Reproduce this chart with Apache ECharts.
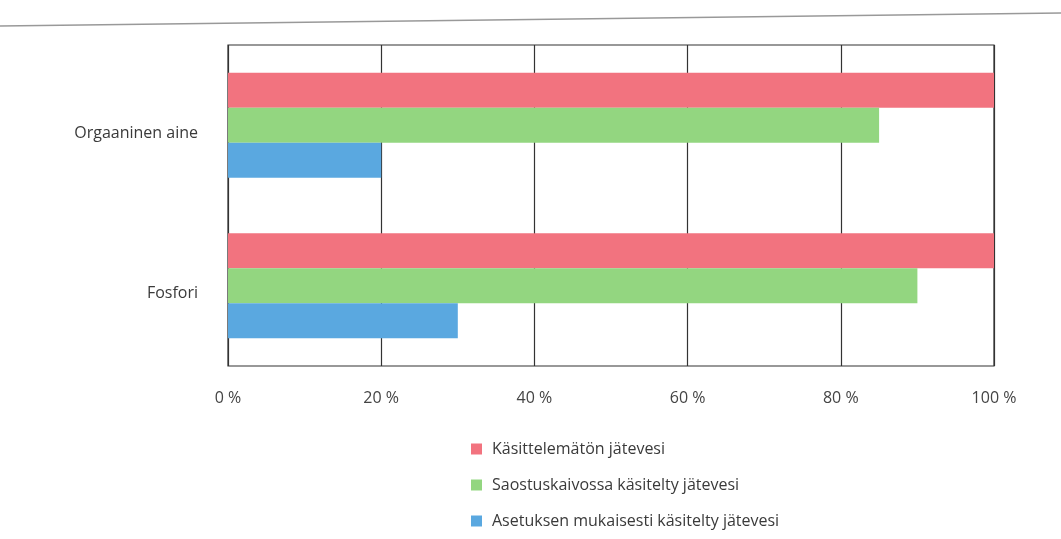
<!DOCTYPE html>
<html>
<head>
<meta charset="utf-8">
<script src="https://cdn.jsdelivr.net/npm/echarts@6/dist/echarts.min.js"></script>
<style>
  html, body { margin: 0; padding: 0; background: #ffffff; }
  #chart { width: 1061px; height: 539px; }
</style>
</head>
<body>
<div id="chart"></div>
<script>
// Categories (top to bottom) and percentage values per series
const categories = ['Orgaaninen aine', 'Fosfori'];
const seriesNames = [
  'Käsittelemätön jätevesi',
  'Saostuskaivossa käsitelty jätevesi',
  'Asetuksen mukaisesti käsitelty jätevesi'
];
const untreated = [100, 100];
const septicTank = [85, 90];
const regulated = [20, 30];
const tickValues = [0, 20, 40, 60, 80, 100];

const colors = ['#f2737f', '#93d680', '#5aa8e0'];
const font = '"Open Sans", Lato, sans-serif';

const chart = echarts.init(document.getElementById('chart'));

const mkSeries = (name, data, color) => ({
  name, type: 'bar', data,
  barWidth: 35, barGap: '0%',
  itemStyle: { color },
  emphasis: { disabled: true }
});

chart.setOption({
  animation: false,
  textStyle: { fontFamily: font },
  grid: { left: 228, right: 67, top: 45, bottom: 173, show: true, borderColor: '#333', borderWidth: 1.2 },
  xAxis: {
    type: 'value', min: 0, max: 100, interval: 20,
    axisLine: { show: false },
    axisTick: { show: false },
    splitLine: { show: true, lineStyle: { color: '#333', width: 1.2 } },
    axisLabel: {
      margin: 24, color: '#444', fontSize: 16, fontFamily: font,
      formatter: v => tickValues.includes(v) ? v + ' %' : ''
    }
  },
  yAxis: {
    type: 'category', data: categories, inverse: true,
    axisLine: { show: false },
    axisTick: { show: false },
    axisLabel: { margin: 30, color: '#3a3a3a', fontSize: 16, fontFamily: font, verticalAlign: 'top' }
  },
  legend: {
    orient: 'vertical', left: 466, top: 436,
    itemWidth: 11, itemHeight: 11, itemGap: 20,
    icon: 'rect',
    textStyle: { color: '#3a3a3a', fontSize: 16, fontFamily: font, padding: [0, 0, 0, 5] },
    data: seriesNames
  },
  graphic: [{
    type: 'line',
    shape: { x1: 0, y1: 26, x2: 1061, y2: 13 },
    style: { stroke: '#999', lineWidth: 1.5 },
    silent: true
  }],
  series: [
    mkSeries(seriesNames[0], untreated, colors[0]),
    mkSeries(seriesNames[1], septicTank, colors[1]),
    mkSeries(seriesNames[2], regulated, colors[2])
  ]
});
</script>
</body>
</html>
